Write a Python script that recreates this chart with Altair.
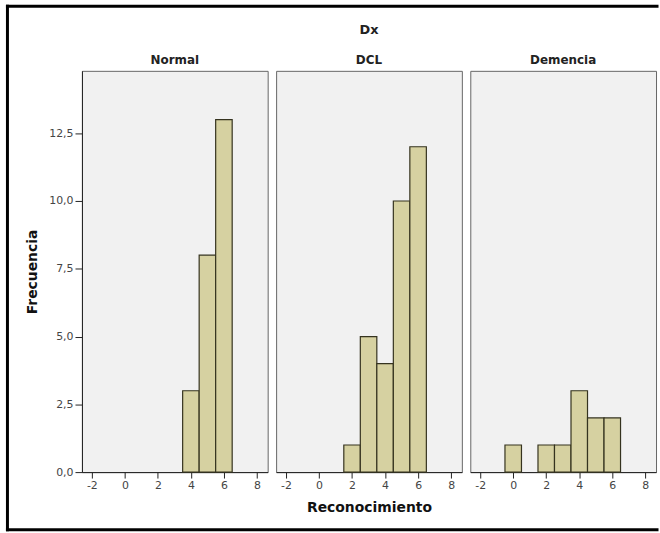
import altair as alt
import pandas as pd

# Histogram counts of "Reconocimiento" scores by diagnosis group (Dx)
groups = ["Normal", "DCL", "Demencia"]
normal_scores = [4, 5, 6]
normal_counts = [3, 8, 13]
dcl_scores = [2, 3, 4, 5, 6]
dcl_counts = [1, 5, 4, 10, 12]
demencia_scores = [0, 2, 3, 4, 5, 6]
demencia_counts = [1, 1, 1, 3, 2, 2]

x_ticks = [-2, 0, 2, 4, 6, 8]
y_ticks = [0, 2.5, 5, 7.5, 10, 12.5]

FONT = "DejaVu Sans"
BAR_FILL = "#d6d1a1"
BAR_STROKE = "#35331f"
PANEL_W = 187
PANEL_H = 404
ONE_ROW = pd.DataFrame({"k": [0]})


def binned(scores, counts):
    return pd.DataFrame({"score": scores, "count": counts}).assign(
        lo=lambda d: d["score"] - 0.5, hi=lambda d: d["score"] + 0.5
    )


def label(text, y, size):
    return (
        alt.Chart(ONE_ROW)
        .mark_text(font=FONT, fontSize=size, fontWeight="bold", color="#222", baseline="middle", clip=False)
        .encode(x=alt.value(PANEL_W / 2), y=alt.value(y), text=alt.value(text))
    )


def border():
    # outer frame of the figure (top, left and bottom edges)
    style = dict(color="black", strokeWidth=3, strokeCap="square", clip=False)
    top = alt.Chart(ONE_ROW).mark_rule(**style).encode(
        x=alt.value(-75), x2=alt.value(579), y=alt.value(-65)
    )
    left = alt.Chart(ONE_ROW).mark_rule(**style).encode(
        x=alt.value(-75), y=alt.value(-65), y2=alt.value(462)
    )
    bottom = alt.Chart(ONE_ROW).mark_rule(**style).encode(
        x=alt.value(-75), x2=alt.value(579), y=alt.value(462)
    )
    return [top, left, bottom]


def panel(name, scores, counts, first=False, middle=False):
    x_axis = alt.Axis(
        values=x_ticks,
        labelExpr="toString(datum.value)",
        title="Reconocimiento" if middle else None,
        titleFont=FONT,
        titleFontSize=14,
        titleFontWeight="bold",
        titleColor="#111",
        titlePadding=10,
        grid=False,
        tickSize=6,
        tickColor="#222",
        domainColor="#222",
        labelFont=FONT,
        labelFontSize=11,
        labelColor="#444",
        labelPadding=2,
    )
    if first:
        y_axis = alt.Axis(
            values=y_ticks,
            labelExpr="replace(format(datum.value, '.1f'), '.', ',')",
            title="Frecuencia",
            titleFont=FONT,
            titleFontSize=14,
            titleFontWeight="bold",
            titleColor="#111",
            titlePadding=9,
            grid=False,
            tickSize=7,
            tickColor="#222",
            domainColor="#222",
            labelFont=FONT,
            labelFontSize=11,
            labelColor="#444",
            labelPadding=2,
        )
    else:
        y_axis = None

    bars = (
        alt.Chart(binned(scores, counts))
        .mark_rect(fill=BAR_FILL, stroke=BAR_STROKE, strokeWidth=1.2)
        .encode(
            x=alt.X("lo:Q", scale=alt.Scale(domain=[-2.6, 8.65], nice=False, zero=False), axis=x_axis),
            x2="hi:Q",
            y=alt.Y("count:Q", scale=alt.Scale(domain=[0, 14.8], nice=False), axis=y_axis),
            y2=alt.datum(0),
        )
    )
    layers = [bars, label(name, -11, 12)]
    if middle:
        layers.append(label("Dx", -41, 13))
    if first:
        layers = border() + layers
    return alt.layer(*layers).properties(width=PANEL_W, height=PANEL_H)


chart = (
    alt.hconcat(
        panel(groups[0], normal_scores, normal_counts, first=True),
        panel(groups[1], dcl_scores, dcl_counts, middle=True),
        panel(groups[2], demencia_scores, demencia_counts),
        spacing=8.5,
        bounds="flush",
    )
    .properties(
        padding={"left": 4.5, "top": 1.5, "right": 0, "bottom": 0},
        background="white",
    )
    .configure_view(fill="#f1f1f1", stroke="#666666", strokeWidth=1)
)

chart.save("out.html", embed_options={"renderer": "svg", "actions": False})
